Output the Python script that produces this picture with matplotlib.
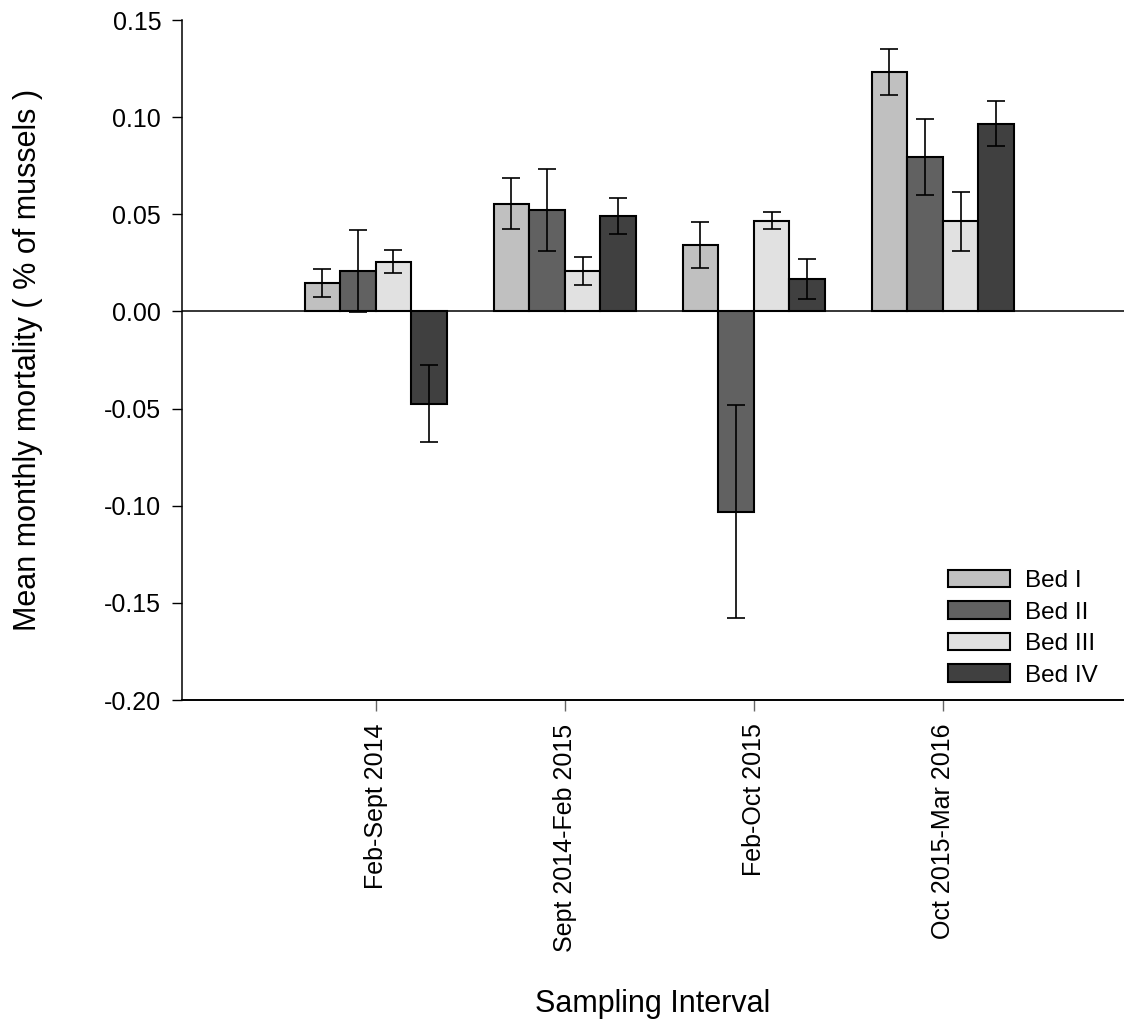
import matplotlib
matplotlib.use("Agg")
import matplotlib.pyplot as plt
import numpy as np

plt.rcParams['font.family'] = ['Liberation Sans', 'DejaVu Sans']

categories = ["Feb-Sept 2014", "Sept 2014-Feb 2015", "Feb-Oct 2015", "Oct 2015-Mar 2016"]
series_names = ["Bed I", "Bed II", "Bed III", "Bed IV"]
bed1 = [0.0146, 0.0555, 0.0342, 0.1233]
bed2 = [0.0206, 0.0522, -0.1030, 0.0795]
bed3 = [0.0256, 0.0208, 0.0467, 0.0463]
bed4 = [-0.0474, 0.0491, 0.0167, 0.0967]
err1 = [0.0072, 0.0132, 0.0116, 0.0118]
err2 = [0.0211, 0.0211, 0.0550, 0.0197]
err3 = [0.0058, 0.0074, 0.0044, 0.0150]
err4 = [0.0200, 0.0095, 0.0101, 0.0117]
yticks = [-0.20, -0.15, -0.10, -0.05, 0.00, 0.05, 0.10, 0.15]

values = [bed1, bed2, bed3, bed4]
errors = [err1, err2, err3, err4]
colors = ["#c0c0c0", "#616161", "#e1e1e1", "#404040"]

W, H = 1124, 1021
fig = plt.figure(figsize=(W / 100, H / 100), dpi=100)
ax = fig.add_axes([182 / W, (H - 700) / H, (W - 182) / W, 680 / H])

x = np.arange(len(categories))
bw = 0.188
for i, (vals, errs, col, name) in enumerate(zip(values, errors, colors, series_names)):
    pos = x + (i - 1.5) * bw
    ax.bar(pos, vals, width=bw, color=col, edgecolor='black', linewidth=1.5,
           label=name, zorder=2)
    ax.errorbar(pos, vals, yerr=errs, fmt='none', ecolor='black', elinewidth=1.2,
                capsize=6.7, capthick=1.2, zorder=3)

ax.axhline(0, color='black', linewidth=1.1, zorder=1)

ax.set_xlim(-1.025, 3.959)
ax.set_ylim(-0.20, 0.15)
ax.set_yticks(yticks)
ax.set_yticklabels([f"{t:.2f}" for t in yticks])
ax.set_xticks(x)
ax.set_xticklabels(categories, rotation=90, va='top', ha='center')

for s in ['top', 'right']:
    ax.spines[s].set_visible(False)
ax.spines['left'].set_linewidth(1.1)
ax.spines['bottom'].set_linewidth(1.4)

ax.tick_params(axis='y', direction='out', length=7, width=1.0, labelsize=18, pad=8)
ax.tick_params(axis='x', direction='out', length=8, width=1.0, color='#666666',
               labelsize=18, pad=9)

ax.set_ylabel("Mean monthly mortality ( % of mussels )", fontsize=22, labelpad=44)
ax.set_xlabel("Sampling Interval", fontsize=22, labelpad=27)

leg = ax.legend(loc='upper left', bbox_to_anchor=(948 / W, (H - 570) / H),
                bbox_transform=fig.transFigure, frameon=False, fontsize=17.5,
                handlelength=2.55, handleheight=0.73, handletextpad=0.6,
                labelspacing=0.38, borderpad=0, borderaxespad=0)

fig.savefig("out.png", dpi=100)
